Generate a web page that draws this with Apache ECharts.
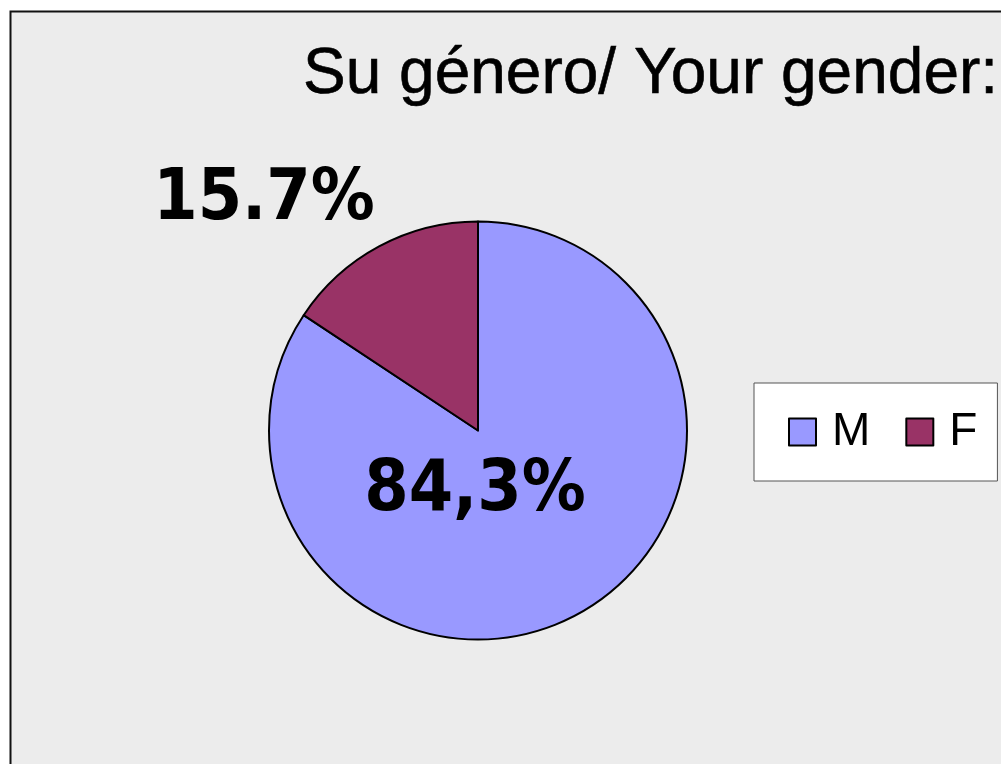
<!DOCTYPE html>
<html><head><meta charset="utf-8">
<script src="https://cdn.jsdelivr.net/npm/echarts@6/dist/echarts.min.js"></script>
<style>html,body{margin:0;padding:0;background:#fff;}#c{width:1001px;height:764px;}</style>
</head><body><div id="c"></div>
<script>
const categories = ['M', 'F'];
const values = [84.3, 15.7];
const labelTexts = ['84,3%', '15.7%'];
const colors = ['#9999ff', '#993366'];
const titleText = 'Su género/ Your gender:';

const chart = echarts.init(document.getElementById('c'), null, {renderer: 'canvas'});
const labelPos = [[475, 492], [264, 201]];
chart.setOption({
  backgroundColor: '#ffffff',
  animation: false,
  graphic: [{
    type: 'rect', z: -10, silent: true,
    shape: {x: 10.5, y: 11.5, width: 1000, height: 800},
    style: {fill: '#ececec', stroke: '#111', lineWidth: 2}
  }],
  title: {
    text: titleText, left: 298, top: 38,
    textStyle: {fontFamily: 'Liberation Sans, Arial, sans-serif', fontWeight: 'normal', fontSize: 64, color: '#000', textBorderColor: '#000', textBorderWidth: 0.6}
  },
  legend: {
    data: categories,
    left: 754, top: 383, width: 242, height: 98,
    padding: [26, 20, 26, 34],
    backgroundColor: '#ffffff', borderColor: '#555', borderWidth: 1,
    itemWidth: 27, itemHeight: 27, itemGap: 35,
    icon: 'rect',
    itemStyle: {borderColor: '#000', borderWidth: 2},
    textStyle: {fontFamily: 'Liberation Sans, Arial, sans-serif', fontSize: 46, color: '#000', padding: [0,0,0,11]}
  },
  series: [{
    type: 'pie',
    center: [478, 430.5],
    radius: 209,
    startAngle: 90,
    clockwise: true,
    data: categories.map((c, i) => ({name: c, value: values[i], itemStyle: {color: colors[i]}})),
    itemStyle: {borderColor: '#000', borderWidth: 2},
    label: {
      show: true, position: 'inside',
      formatter: p => labelTexts[p.dataIndex],
      fontFamily: '"DejaVu Sans Condensed", "DejaVu Sans", sans-serif',
      fontWeight: 'bold', fontSize: 71, color: '#000'
    },
    labelLine: {show: false},
    labelLayout: p => ({x: labelPos[p.dataIndex][0], y: labelPos[p.dataIndex][1], align: 'center', verticalAlign: 'middle'}),
    emphasis: {disabled: true}
  }]
});
</script></body></html>
